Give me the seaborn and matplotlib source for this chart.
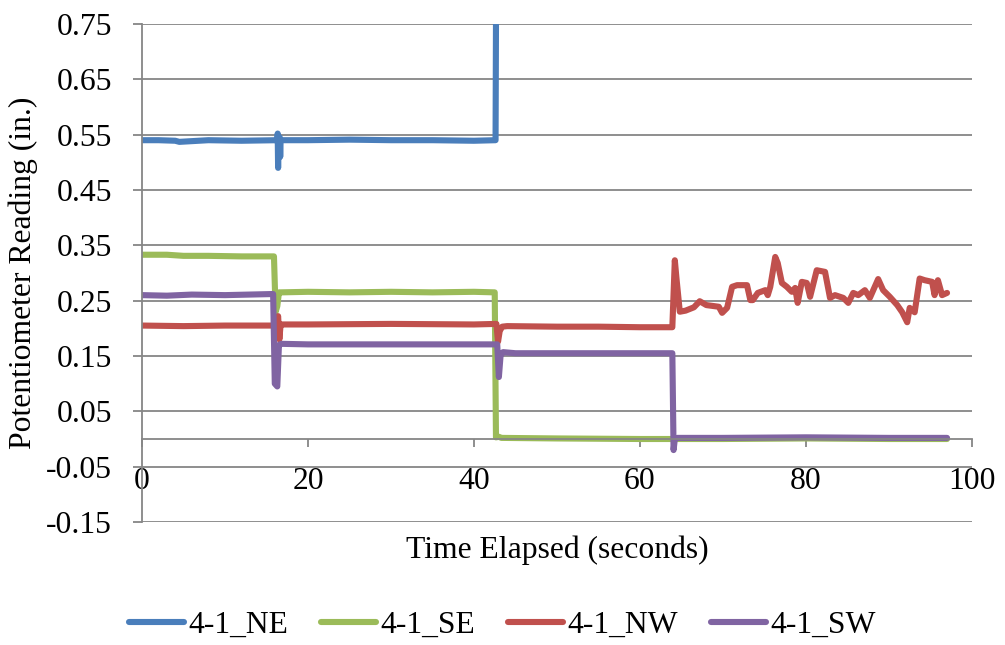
import matplotlib
matplotlib.use("Agg")
import matplotlib.pyplot as plt
import seaborn as sns
import pandas as pd

# readings (time in seconds, reading in inches)
ne_t = [0, 2, 4, 4.5, 8, 12, 16.3, 16.35, 16.4, 16.45, 16.6, 16.65, 16.7, 20, 25, 30, 35, 40, 42.6, 42.7, 97]
ne_v = [0.540, 0.540, 0.539, 0.537, 0.540, 0.539, 0.540, 0.552, 0.490, 0.545, 0.545, 0.510, 0.540, 0.540,
        0.541, 0.540, 0.540, 0.539, 0.540, 0.95, 0.95]

se_t = [0, 3, 5, 8, 12, 15.9, 16.1, 16.3, 16.5, 16.7, 20, 25, 30, 35, 40, 42.5, 42.65, 43.0, 43.3,
        50, 60, 64, 70, 80, 90, 97]
se_v = [0.333, 0.333, 0.331, 0.331, 0.330, 0.330, 0.23, 0.24, 0.265, 0.265, 0.266, 0.265, 0.266, 0.265,
        0.266, 0.265, 0.003, 0.004, 0.002, 0.001, 0.0, 0.0, 0.0, 0.001, 0.0, 0.0]

nw_t = [0, 5, 10, 16.2, 16.4, 16.55, 16.7, 16.9, 20, 30, 40, 42.7, 42.9, 43.1, 43.4, 44, 50, 55, 60,
        63.9, 64.2, 64.4, 64.8, 65.5, 66.5, 67.2, 68.0, 69.5, 69.9, 70.5, 71.1, 71.7, 72.9, 73.3, 73.6,
        74.2, 75.1, 75.4, 75.7, 76.3, 76.6, 77.1, 77.7, 78.3, 78.7, 79.0, 79.5, 80.1, 80.5, 81.3, 82.3,
        82.9, 83.5, 84.5, 85.1, 85.7, 86.3, 87.1, 87.7, 88.7, 89.3, 90.1, 91.0, 91.6, 92.2, 92.5, 93.1,
        93.7, 94.3, 95.2, 95.5, 95.9, 96.4, 97.0]
nw_v = [0.205, 0.204, 0.205, 0.205, 0.222, 0.180, 0.207, 0.207, 0.207, 0.208, 0.207, 0.208, 0.176,
        0.195, 0.203, 0.204, 0.203, 0.203, 0.202, 0.202, 0.323, 0.290, 0.230, 0.232, 0.238, 0.249,
        0.242, 0.239, 0.228, 0.237, 0.275, 0.278, 0.278, 0.251, 0.251, 0.264, 0.269, 0.260, 0.275,
        0.329, 0.318, 0.282, 0.275, 0.266, 0.273, 0.246, 0.284, 0.282, 0.257, 0.305, 0.302, 0.255,
        0.260, 0.255, 0.246, 0.264, 0.260, 0.269, 0.255, 0.289, 0.269, 0.257, 0.242, 0.229, 0.211,
        0.237, 0.229, 0.290, 0.287, 0.284, 0.260, 0.287, 0.260, 0.264]

sw_t = [0, 3, 6, 10, 15.8, 16.0, 16.3, 16.5, 16.8, 20, 30, 40, 42.8, 43.0, 43.2, 43.5, 45, 50, 60,
        63.9, 64.05, 64.2, 64.5, 70, 80, 90, 97]
sw_v = [0.260, 0.259, 0.261, 0.260, 0.262, 0.10, 0.095, 0.170, 0.172, 0.171, 0.171, 0.171, 0.171,
        0.112, 0.150, 0.157, 0.155, 0.155, 0.155, 0.155, -0.020, 0.0, 0.002, 0.002, 0.003, 0.002, 0.002]

series = ["4-1_NE", "4-1_SE", "4-1_NW", "4-1_SW"]
colors = ["#4A7EBB", "#9BBB59", "#C0504D", "#8064A2"]
y_ticks = [-0.15, -0.05, 0.05, 0.15, 0.25, 0.35, 0.45, 0.55, 0.65, 0.75]
x_ticks = [0, 20, 40, 60, 80, 100]

frames = []
for name, t, v in zip(series, [ne_t, se_t, nw_t, sw_t], [ne_v, se_v, nw_v, sw_v]):
    frames.append(pd.DataFrame({"time": t, "reading": v, "sensor": name}))
df = pd.concat(frames, ignore_index=True)

sns.set_style("white")
plt.rcParams["font.family"] = ["Liberation Serif", "DejaVu Serif"]
plt.rcParams["font.size"] = 22.8
plt.rcParams["text.color"] = "black"
plt.rcParams["axes.labelcolor"] = "black"
plt.rcParams["xtick.labelcolor"] = "black"
plt.rcParams["ytick.labelcolor"] = "black"

fig = plt.figure(figsize=(10.05, 6.45), dpi=100)
ax = fig.add_axes([0.1413, 0.1907, 0.8258, 0.7721])

grid_col = "#868686"
for y in y_ticks:
    ax.axhline(y, color=grid_col, lw=1.3, zorder=0)

sns.lineplot(data=df, x="time", y="reading", hue="sensor", hue_order=series,
             palette=colors, estimator=None, sort=False, lw=4.4, ax=ax,
             solid_capstyle="round", solid_joinstyle="round", legend=False)

ax.set_xlim(0, 100)
ax.set_ylim(-0.15, 0.75)
ax.set_yticks(y_ticks)
ax.set_yticklabels([f"{y:.2f}" for y in y_ticks])
ax.set_xticks(x_ticks)

for s in ["top", "right"]:
    ax.spines[s].set_visible(False)
ax.spines["bottom"].set_position(("data", 0))
ax.spines["bottom"].set_color(grid_col)
ax.spines["bottom"].set_linewidth(1.3)
ax.spines["left"].set_color(grid_col)
ax.spines["left"].set_linewidth(1.3)

ax.tick_params(axis="y", direction="out", length=6.5, width=1.3, color=grid_col, pad=15,
               left=True, labelcolor="black")
ax.tick_params(axis="x", direction="out", length=6, width=1.3, color=grid_col, pad=14.4,
               bottom=True, labelcolor="black")

ax.set_xlabel("Time Elapsed (seconds)", color="black")
ax.set_ylabel("Potentiometer Reading (in.)", color="black")
ax.xaxis.set_label_coords(0.5, -0.027)
ax.yaxis.set_label_coords(-0.125, 0.5)

handles = [plt.Line2D([], [], color=c, lw=4.4, solid_capstyle="round") for c in colors]
fig.legend(handles, series, loc="center", bbox_to_anchor=(0.5, 0.031), ncol=4, frameon=False,
           handlelength=1.74, handletextpad=0.13, columnspacing=1.04, labelcolor="black")

fig.savefig("out.png", dpi=100)
